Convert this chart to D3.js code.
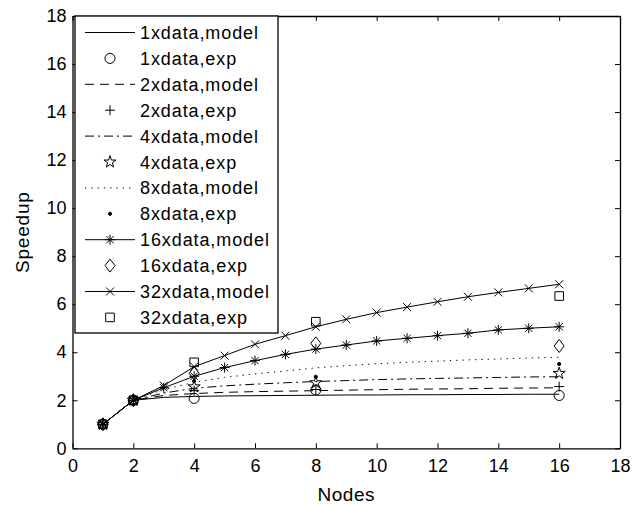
<!DOCTYPE html>
<html>
<head>
<meta charset="utf-8">
<script src="https://cdn.jsdelivr.net/npm/d3@7"></script>
<style>
  body { margin: 0; background: #fff; }
  svg { display: block; }
  text { font-family: "Liberation Sans", Arial, Helvetica, sans-serif; fill: #000; }
</style>
</head>
<body>
<svg id="chart"></svg>
<script>
// x values
const nodesModel = [1, 2, 3, 4, 5, 6, 7, 8, 9, 10, 11, 12, 13, 14, 15, 16];
const nodesExp = [1, 2, 4, 8, 16];

// model curves
const model1x  = [1, 2, 2.12, 2.16, 2.18, 2.19, 2.2, 2.21, 2.22, 2.22, 2.23, 2.23, 2.24, 2.24, 2.25, 2.25];
const model2x  = [1, 2, 2.2, 2.28, 2.33, 2.36, 2.38, 2.4, 2.42, 2.44, 2.46, 2.47, 2.48, 2.5, 2.51, 2.52];
const model4x  = [1, 2, 2.3, 2.5, 2.6, 2.67, 2.73, 2.78, 2.82, 2.86, 2.89, 2.91, 2.93, 2.95, 2.97, 2.98];
const model8x  = [1, 2, 2.45, 2.75, 2.95, 3.1, 3.22, 3.35, 3.44, 3.52, 3.58, 3.63, 3.68, 3.72, 3.76, 3.79];
const model16x = [1, 2, 2.52, 3.0, 3.36, 3.65, 3.91, 4.13, 4.3, 4.47, 4.58, 4.69, 4.79, 4.93, 5.0, 5.06];
const model32x = [1, 2, 2.61, 3.4, 3.86, 4.33, 4.69, 5.06, 5.37, 5.65, 5.88, 6.1, 6.31, 6.49, 6.66, 6.83];

// experiments
const exp1x  = [1, 2, 2.08, 2.43, 2.2];
const exp2x  = [1, 2, 2.4, 2.45, 2.57];
const exp4x  = [1, 2, 2.56, 2.73, 3.12];
const exp8x  = [1, 2, 2.8, 2.98, 3.51];
const exp16x = [1, 2, 3.12, 4.37, 4.26];
const exp32x = [1, 2, 3.58, 5.27, 6.34];

const xTicks = [0, 2, 4, 6, 8, 10, 12, 14, 16, 18];
const yTicks = [0, 2, 4, 6, 8, 10, 12, 14, 16, 18];

const legendLabels = ["1xdata,model", "1xdata,exp", "2xdata,model", "2xdata,exp",
  "4xdata,model", "4xdata,exp", "8xdata,model", "8xdata,exp",
  "16xdata,model", "16xdata,exp", "32xdata,model", "32xdata,exp"];

// marker shapes
function markerPath(kind) {
  switch (kind) {
    case "plus": return "M-5,0H5M0,-5V5";
    case "x": return "M-4,-4L4,4M-4,4L4,-4";
    case "asterisk": return "M-5,0H5M0,-5V5M-3.6,-3.6L3.6,3.6M-3.6,3.6L3.6,-3.6";
    case "diamond": return "M0,-6.5L5,0L0,6.5L-5,0Z";
    case "square": return "M-4.3,-4.3H4.3V4.3H-4.3Z";
    case "circle": return d3.symbol(d3.symbolCircle, 80)();
    case "star": return d3.symbol(d3.symbolStar, 45)();
    case "dot": return d3.symbol(d3.symbolCircle, 8)();
  }
  return null;
}

const models = [
  {values: model1x, dash: null, marker: null},
  {values: model2x, dash: "9,6", marker: null},
  {values: model4x, dash: "9,4,2,4", marker: null},
  {values: model8x, dash: "1.3,5", marker: null},
  {values: model16x, dash: null, marker: "asterisk"},
  {values: model32x, dash: null, marker: "x"}
];
const exps = [
  {values: exp1x, marker: "circle"},
  {values: exp2x, marker: "plus"},
  {values: exp4x, marker: "star"},
  {values: exp8x, marker: "dot"},
  {values: exp16x, marker: "diamond"},
  {values: exp32x, marker: "square"}
];

const width = 644, height = 505;
const plot = {left: 72.5, top: 16, right: 620, bottom: 448.3};

const svg = d3.select("#chart").attr("width", width).attr("height", height);

const x = d3.scaleLinear().domain([0, 18]).range([plot.left, plot.right]);
const y = d3.scaleLinear().domain([0, 18]).range([plot.bottom, plot.top]);

// axes (ticks inward, box on all sides)
const axisStyle = g => {
  g.select(".domain").attr("stroke", "#000").attr("stroke-width", 1.3);
  g.selectAll(".tick line").attr("stroke", "#000").attr("stroke-width", 1);
  g.selectAll(".tick text").style("font-size", "18px")
    .style("font-family", "'Liberation Sans', Arial, sans-serif");
};

svg.append("g")
  .attr("transform", `translate(0,${plot.bottom})`)
  .call(d3.axisBottom(x).tickValues(xTicks).tickFormat(d3.format("d"))
    .tickSizeInner(-5).tickSizeOuter(0).tickPadding(11))
  .call(axisStyle);

svg.append("g")
  .attr("transform", `translate(${plot.left},0)`)
  .call(d3.axisLeft(y).tickValues(yTicks).tickFormat(d3.format("d"))
    .tickSizeInner(-5).tickSizeOuter(0).tickPadding(6))
  .call(axisStyle);

svg.append("g")
  .attr("transform", `translate(0,${plot.top})`)
  .call(d3.axisTop(x).tickValues(xTicks).tickFormat("")
    .tickSizeInner(-5).tickSizeOuter(0))
  .call(axisStyle);

svg.append("g")
  .attr("transform", `translate(${plot.right},0)`)
  .call(d3.axisRight(y).tickValues(yTicks).tickFormat("")
    .tickSizeInner(-5).tickSizeOuter(0))
  .call(axisStyle);

// axis labels
svg.append("text")
  .attr("x", (plot.left + plot.right) / 2)
  .attr("y", 501)
  .attr("text-anchor", "middle")
  .style("font-size", "19px")
  .style("letter-spacing", "0.5px")
  .text("Nodes");

svg.append("text")
  .attr("transform", `translate(29,${(plot.top + plot.bottom) / 2}) rotate(-90)`)
  .attr("text-anchor", "middle")
  .style("font-size", "19px")
  .style("letter-spacing", "0.8px")
  .text("Speedup");

// model lines
const line = d3.line().x((d, i) => x(nodesModel[i])).y(d => y(d));
const chart = svg.append("g");

models.forEach(m => {
  chart.append("path")
    .attr("d", line(m.values))
    .attr("fill", "none")
    .attr("stroke", "#000")
    .attr("stroke-width", 1)
    .attr("stroke-dasharray", m.dash);
  if (m.marker) {
    chart.append("g").selectAll("path")
      .data(m.values)
      .join("path")
      .attr("transform", (d, i) => `translate(${x(nodesModel[i])},${y(d)})`)
      .attr("d", markerPath(m.marker))
      .attr("fill", "none")
      .attr("stroke", "#000")
      .attr("stroke-width", 1);
  }
});

// experimental points
exps.forEach(e => {
  chart.append("g").selectAll("path")
    .data(e.values)
    .join("path")
    .attr("transform", (d, i) => `translate(${x(nodesExp[i])},${y(d)})`)
    .attr("d", markerPath(e.marker))
    .attr("fill", e.marker === "dot" ? "#000" : "none")
    .attr("stroke", "#000")
    .attr("stroke-width", 1);
});

// legend
const legend = svg.append("g");
legend.append("rect")
  .attr("x", 75).attr("y", 16)
  .attr("width", 203).attr("height", 317)
  .attr("fill", "#fff")
  .attr("stroke", "#000")
  .attr("stroke-width", 1.3);

const rowY = i => 32.5 + i * 25.9;
legendLabels.forEach((label, i) => {
  const g = legend.append("g").attr("transform", `translate(0,${rowY(i)})`);
  const k = Math.floor(i / 2);
  if (i % 2 === 0) {
    const m = models[k];
    g.append("line")
      .attr("x1", 85).attr("x2", 135)
      .attr("stroke", "#000").attr("stroke-width", 1)
      .attr("stroke-dasharray", m.dash);
    if (m.marker) {
      g.append("path").attr("transform", "translate(110,0)")
        .attr("d", markerPath(m.marker))
        .attr("fill", "none").attr("stroke", "#000");
    }
  } else {
    const e = exps[k];
    g.append("path").attr("transform", "translate(110,0)")
      .attr("d", markerPath(e.marker))
      .attr("fill", e.marker === "dot" ? "#000" : "none")
      .attr("stroke", "#000");
  }
  g.append("text")
    .attr("x", 140).attr("y", 6.5)
    .style("font-size", "18px")
    .style("letter-spacing", "0.9px")
    .text(label);
});
</script>
</body>
</html>
